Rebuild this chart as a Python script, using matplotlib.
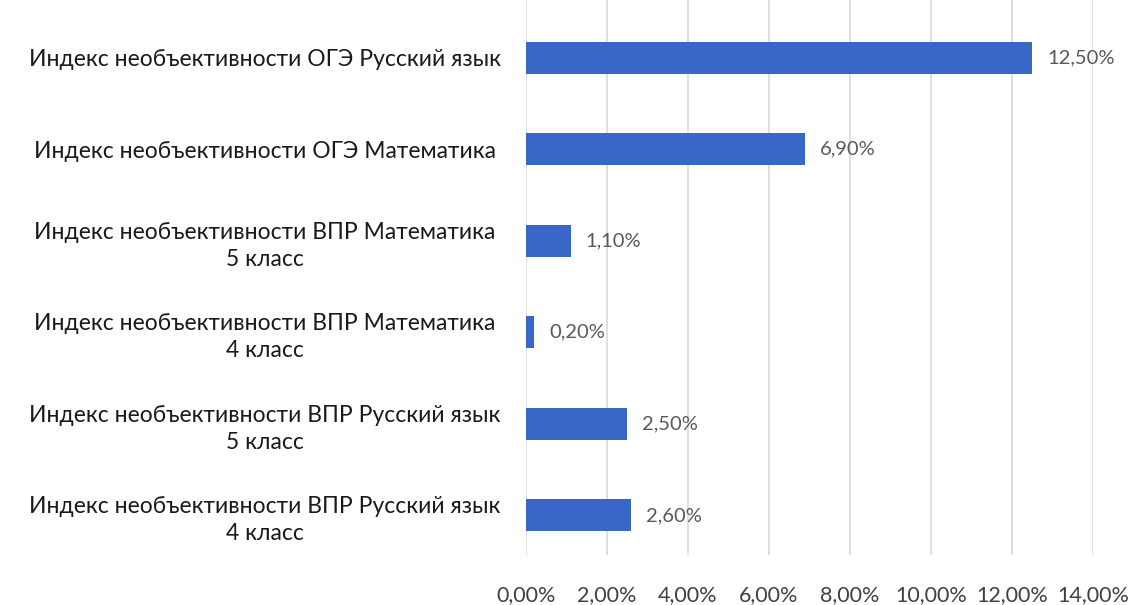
import matplotlib
matplotlib.use("Agg")
import matplotlib.pyplot as plt

# data, top to bottom
labels = [
    "Индекс необъективности ОГЭ Русский язык",
    "Индекс необъективности ОГЭ Математика",
    "Индекс необъективности ВПР Математика\n5 класс",
    "Индекс необъективности ВПР Математика\n4 класс",
    "Индекс необъективности ВПР Русский язык\n5 класс",
    "Индекс необъективности ВПР Русский язык\n4 класс",
]
values = [12.5, 6.9, 1.1, 0.2, 2.5, 2.6]
xticks = [0, 2, 4, 6, 8, 10, 12, 14]

plt.rcParams['font.family'] = ['Lato', 'DejaVu Sans']

fig = plt.figure(figsize=(11.36, 6.05), dpi=100)
ax = fig.add_axes([0.463, 0.083, 0.499, 0.917])

pos = list(range(len(values)))
ax.barh(pos, values, height=0.35, color='#3867c8', zorder=3)
for p, v in zip(pos, values):
    ax.text(v + 0.37, p, f"{v:.2f}%".replace('.', ','), va='center', ha='left',
            fontsize=14.5, color='#595959')

ax.set_xlim(0, 14)
ax.set_ylim(5.43, -0.63)
ax.set_xticks(xticks)
ax.set_xticklabels([f"{t:.2f}%".replace('.', ',') for t in xticks], fontsize=15.5, color='#404040')
ax.set_yticks(pos)
ax.set_yticklabels(labels, fontsize=16.5, color='#1a1a1a', ha='center', linespacing=1.35)
ax.tick_params(axis='y', length=0, pad=188)
ax.tick_params(axis='x', length=0, pad=22)
ax.grid(axis='x', color='#d9d9d9', linewidth=1.2, zorder=0)
for s in ax.spines.values():
    s.set_visible(False)

fig.savefig("out.png", dpi=100)
